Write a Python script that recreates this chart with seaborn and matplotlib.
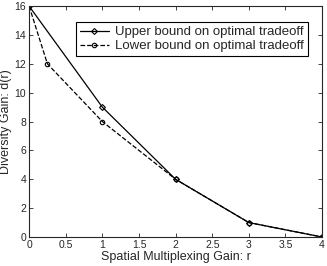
import matplotlib
matplotlib.use("Agg")
import matplotlib.pyplot as plt
import seaborn as sns
import pandas as pd

# data
upper_r = [0, 1, 2, 3, 4]
upper_d = [16, 9, 4, 1, 0]
lower_r = [0, 0.25, 1, 2, 3, 4]
lower_d = [16, 12, 8, 4, 1, 0]

x_ticks = [0, 0.5, 1, 1.5, 2, 2.5, 3, 3.5, 4]
y_ticks = [0, 2, 4, 6, 8, 10, 12, 14, 16]

sns.set_style("ticks")
plt.rcParams['font.family'] = ['Liberation Sans', 'DejaVu Sans']

upper = pd.DataFrame({"r": upper_r, "d": upper_d})
lower = pd.DataFrame({"r": lower_r, "d": lower_d})

fig = plt.figure(figsize=(3.27, 2.66), dpi=100)
ax = fig.add_axes([0.089, 0.109, 0.896, 0.868])

sns.lineplot(
    data=upper, x="r", y="d", ax=ax,
    color="black", linewidth=0.9, marker="D", markersize=3,
    markerfacecolor="none", markeredgecolor="black", markeredgewidth=0.8,
    label="Upper bound on optimal tradeoff"
)
sns.lineplot(
    data=lower, x="r", y="d", ax=ax,
    color="black", linewidth=0.9, linestyle="--", marker="o", markersize=3.2,
    markerfacecolor="none", markeredgecolor="black", markeredgewidth=0.8,
    label="Lower bound on optimal tradeoff"
)

ax.set_xlim(0, 4)
ax.set_ylim(0, 16)
ax.set_xticks(x_ticks)
ax.set_xticklabels(["0", "0.5", "1", "1.5", "2", "2.5", "3", "3.5", "4"])
ax.set_yticks(y_ticks)
ax.tick_params(direction="in", top=True, right=True, labelsize=7.5, length=3, width=0.6, pad=2)
for s in ax.spines.values():
    s.set_linewidth(0.8)

ax.set_xlabel("Spatial Multiplexing Gain: r", fontsize=9, labelpad=1)
ax.set_ylabel("Diversity Gain: d(r)", fontsize=9, labelpad=2)

leg = ax.legend(
    loc="upper right", bbox_to_anchor=(0.975, 0.96), fontsize=9.5,
    frameon=True, fancybox=False, edgecolor="black", framealpha=1,
    handlelength=2.2, borderpad=0.3, labelspacing=0.15, handletextpad=0.5
)
leg.get_frame().set_linewidth(0.8)

fig.savefig("out.png", dpi=100)
